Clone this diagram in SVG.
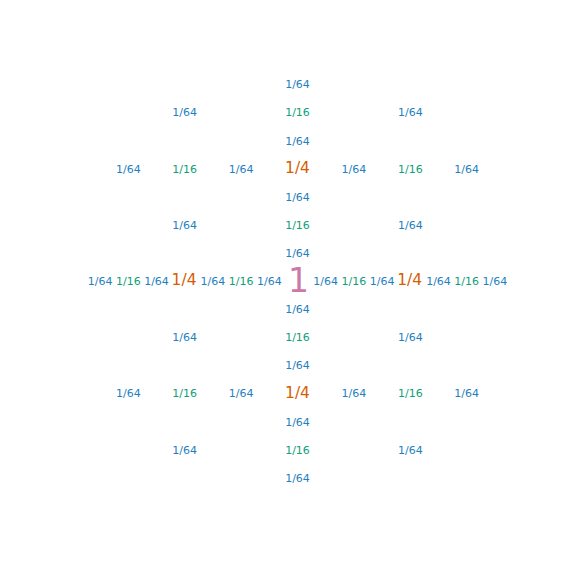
<svg xmlns="http://www.w3.org/2000/svg" width="578" height="578" viewBox="0 0 578 578">
<style>
text{font-family:"DejaVu Sans","Liberation Sans",sans-serif;text-anchor:middle;dominant-baseline:central}
.a{fill:#1f7fc0;font-size:11px}
.b{fill:#0fa07a;font-size:11px}
.c{fill:#d55e00;font-size:15.5px}
.d{fill:#cc79a7;font-size:33px}
</style>
<rect width="578" height="578" fill="#fff"/>
<g id="col-up">
<text class="a" x="297.5" y="84.6">1/64</text>
<text class="b" x="297.5" y="112.8">1/16</text>
<text class="a" x="297.5" y="141">1/64</text>
<text class="c" x="297.5" y="168.4">1/4</text>
<text class="a" x="297.5" y="197.4">1/64</text>
<text class="b" x="297.5" y="225.6">1/16</text>
<text class="a" x="297.5" y="253.8">1/64</text>
</g>
<g id="col-down">
<text class="a" x="297.5" y="309.2">1/64</text>
<text class="b" x="297.5" y="337.4">1/16</text>
<text class="a" x="297.5" y="365.6">1/64</text>
<text class="c" x="297.5" y="393">1/4</text>
<text class="a" x="297.5" y="422">1/64</text>
<text class="b" x="297.5" y="450.2">1/16</text>
<text class="a" x="297.5" y="478.4">1/64</text>
</g>
<g id="row-top">
<text class="a" x="184.7" y="112.8">1/64</text>
<text class="a" x="410.3" y="112.8">1/64</text>
<text class="a" x="128.3" y="169">1/64</text>
<text class="b" x="184.7" y="169">1/16</text>
<text class="a" x="241.1" y="169">1/64</text>
<text class="a" x="353.9" y="169">1/64</text>
<text class="b" x="410.3" y="169">1/16</text>
<text class="a" x="466.7" y="169">1/64</text>
<text class="a" x="184.7" y="225.6">1/64</text>
<text class="a" x="410.3" y="225.6">1/64</text>
</g>
<g id="row-bottom">
<text class="a" x="184.7" y="337.4">1/64</text>
<text class="a" x="410.3" y="337.4">1/64</text>
<text class="a" x="128.3" y="393.6">1/64</text>
<text class="b" x="184.7" y="393.6">1/16</text>
<text class="a" x="241.1" y="393.6">1/64</text>
<text class="a" x="353.9" y="393.6">1/64</text>
<text class="b" x="410.3" y="393.6">1/16</text>
<text class="a" x="466.7" y="393.6">1/64</text>
<text class="a" x="184.7" y="450.2">1/64</text>
<text class="a" x="410.3" y="450.2">1/64</text>
</g>
<g id="row-center">
<text class="a" x="100.1" y="281">1/64</text>
<text class="b" x="128.3" y="281">1/16</text>
<text class="a" x="156.5" y="281">1/64</text>
<text class="c" x="184.1" y="280.4">1/4</text>
<text class="a" x="212.9" y="281">1/64</text>
<text class="b" x="241.1" y="281">1/16</text>
<text class="a" x="269.3" y="281">1/64</text>
<text class="d" x="298.4" y="280">1</text>
<text class="a" x="325.7" y="281">1/64</text>
<text class="b" x="353.9" y="281">1/16</text>
<text class="a" x="382.1" y="281">1/64</text>
<text class="c" x="409.7" y="280.4">1/4</text>
<text class="a" x="438.5" y="281">1/64</text>
<text class="b" x="466.7" y="281">1/16</text>
<text class="a" x="494.9" y="281">1/64</text>
</g>
</svg>
